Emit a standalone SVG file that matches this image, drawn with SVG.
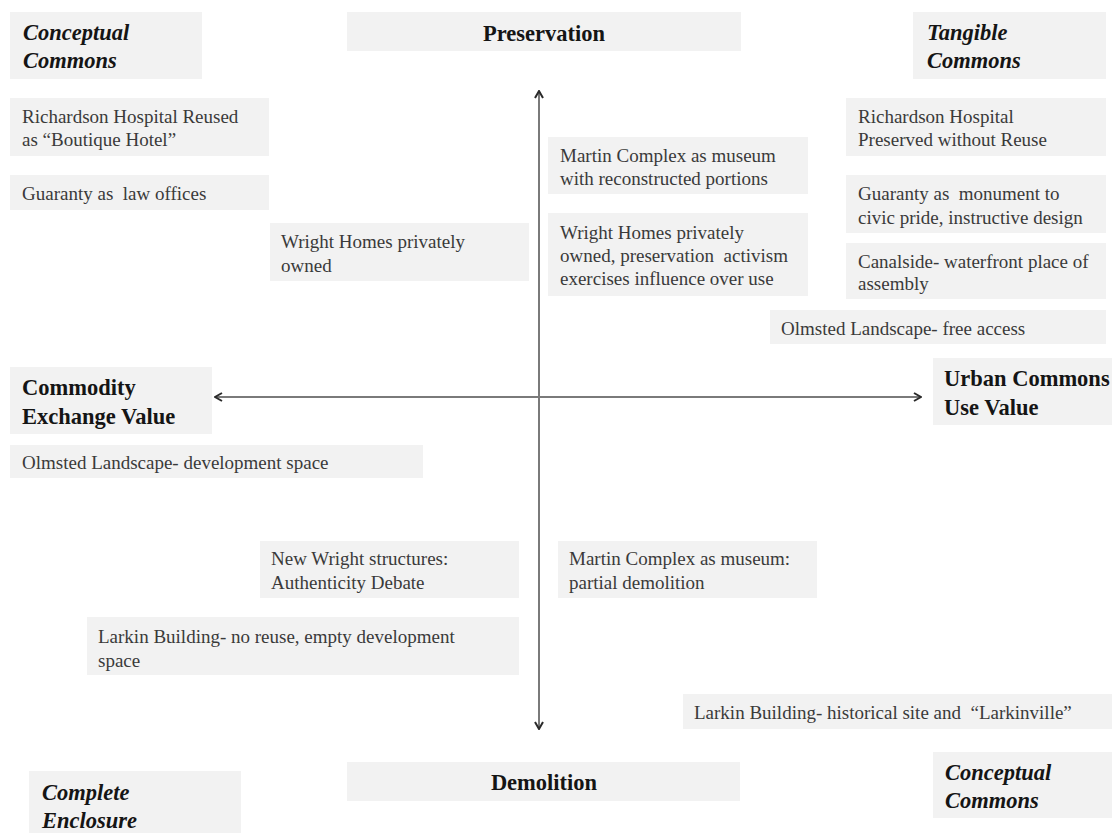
<svg xmlns="http://www.w3.org/2000/svg" width="1112" height="833" viewBox="0 0 1112 833">
<style>
.box{fill:#f2f2f2}
.t{font-family:"Liberation Serif","Times New Roman",serif;font-size:19px;fill:#3a3a3a;white-space:pre}
.h{font-family:"Liberation Serif","Times New Roman",serif;font-size:22.5px;font-weight:bold;fill:#151515;white-space:pre}
.hi{font-family:"Liberation Serif","Times New Roman",serif;font-size:22.5px;font-weight:bold;font-style:italic;fill:#151515;white-space:pre}
.axis{stroke:#7a7a7a;stroke-width:2;fill:none}
</style>
<defs>
<marker id="chev" viewBox="0 0 10 10" refX="9" refY="5" markerWidth="10" markerHeight="10" markerUnits="userSpaceOnUse" orient="auto-start-reverse">
<path d="M2,1 L9,5 L2,9" fill="none" stroke="#2a2a2a" stroke-width="2"/>
</marker>
</defs>
<rect width="1112" height="833" fill="#ffffff"/>

<g id="connectors">
<line class="axis" x1="539" y1="91" x2="539" y2="729" marker-start="url(#chev)" marker-end="url(#chev)"/>
<line class="axis" x1="215" y1="397" x2="921" y2="397" marker-start="url(#chev)" marker-end="url(#chev)"/>
</g>

<g id="conceptual-commons-top">
<rect class="box" x="10" y="12" width="192" height="67"/>
<text class="hi" x="23" y="40">Conceptual</text>
<text class="hi" x="23" y="68">Commons</text>
</g>

<g id="preservation">
<rect class="box" x="347" y="12" width="394" height="39"/>
<text class="h" x="544" y="41" text-anchor="middle">Preservation</text>
</g>

<g id="tangible-commons">
<rect class="box" x="913" y="12" width="193" height="67"/>
<text class="hi" x="927" y="40">Tangible</text>
<text class="hi" x="927" y="68">Commons</text>
</g>

<g id="richardson-reused">
<rect class="box" x="10" y="98" width="259" height="58"/>
<text class="t" x="22" y="123">Richardson Hospital Reused</text>
<text class="t" x="22" y="146">as “Boutique Hotel”</text>
</g>

<g id="guaranty-law">
<rect class="box" x="10" y="175" width="259" height="35"/>
<text class="t" x="22" y="200">Guaranty as  law offices</text>
</g>

<g id="martin-museum">
<rect class="box" x="548" y="137" width="260" height="57"/>
<text class="t" x="560" y="162">Martin Complex as museum</text>
<text class="t" x="560" y="185">with reconstructed portions</text>
</g>

<g id="wright-activism">
<rect class="box" x="548" y="213" width="260" height="83"/>
<text class="t" x="560" y="239">Wright Homes privately</text>
<text class="t" x="560" y="262">owned, preservation  activism</text>
<text class="t" x="560" y="285">exercises influence over use</text>
</g>

<g id="wright-private">
<rect class="box" x="270" y="223" width="259" height="58"/>
<text class="t" x="281" y="248">Wright Homes privately</text>
<text class="t" x="281" y="272">owned</text>
</g>

<g id="richardson-preserved">
<rect class="box" x="846" y="98" width="260" height="58"/>
<text class="t" x="858" y="123">Richardson Hospital</text>
<text class="t" x="858" y="146">Preserved without Reuse</text>
</g>

<g id="guaranty-monument">
<rect class="box" x="846" y="175" width="260" height="58"/>
<text class="t" x="858" y="200">Guaranty as  monument to</text>
<text class="t" x="858" y="224">civic pride, instructive design</text>
</g>

<g id="canalside">
<rect class="box" x="846" y="243" width="260" height="56"/>
<text class="t" x="858" y="268">Canalside- waterfront place of</text>
<text class="t" x="858" y="290">assembly</text>
</g>

<g id="olmsted-free">
<rect class="box" x="770" y="310" width="336" height="34"/>
<text class="t" x="781" y="335">Olmsted Landscape- free access</text>
</g>

<g id="commodity">
<rect class="box" x="10" y="367" width="202" height="67"/>
<text class="h" x="22" y="395">Commodity</text>
<text class="h" x="22" y="424">Exchange Value</text>
</g>

<g id="urban-commons">
<rect class="box" x="933" y="358" width="179" height="67"/>
<text class="h" x="944" y="386">Urban Commons</text>
<text class="h" x="944" y="415">Use Value</text>
</g>

<g id="olmsted-development">
<rect class="box" x="10" y="445" width="413" height="33"/>
<text class="t" x="22" y="469">Olmsted Landscape- development space</text>
</g>

<g id="new-wright">
<rect class="box" x="260" y="541" width="259" height="57"/>
<text class="t" x="271" y="565">New Wright structures:</text>
<text class="t" x="271" y="589">Authenticity Debate</text>
</g>

<g id="martin-demolition">
<rect class="box" x="558" y="541" width="259" height="57"/>
<text class="t" x="569" y="565">Martin Complex as museum:</text>
<text class="t" x="569" y="589">partial demolition</text>
</g>

<g id="larkin-no-reuse">
<rect class="box" x="87" y="617" width="432" height="58"/>
<text class="t" x="98" y="643">Larkin Building- no reuse, empty development</text>
<text class="t" x="98" y="667">space</text>
</g>

<g id="larkin-historical">
<rect class="box" x="683" y="694" width="429" height="35"/>
<text class="t" x="694" y="719">Larkin Building- historical site and  “Larkinville”</text>
</g>

<g id="demolition">
<rect class="box" x="347" y="762" width="393" height="39"/>
<text class="h" x="544" y="790" text-anchor="middle">Demolition</text>
</g>

<g id="complete-enclosure">
<rect class="box" x="29" y="771" width="212" height="62"/>
<text class="hi" x="42" y="800">Complete</text>
<text class="hi" x="42" y="828">Enclosure</text>
</g>

<g id="conceptual-commons-bottom">
<rect class="box" x="933" y="752" width="179" height="66"/>
<text class="hi" x="945" y="780">Conceptual</text>
<text class="hi" x="945" y="808">Commons</text>
</g>
</svg>
